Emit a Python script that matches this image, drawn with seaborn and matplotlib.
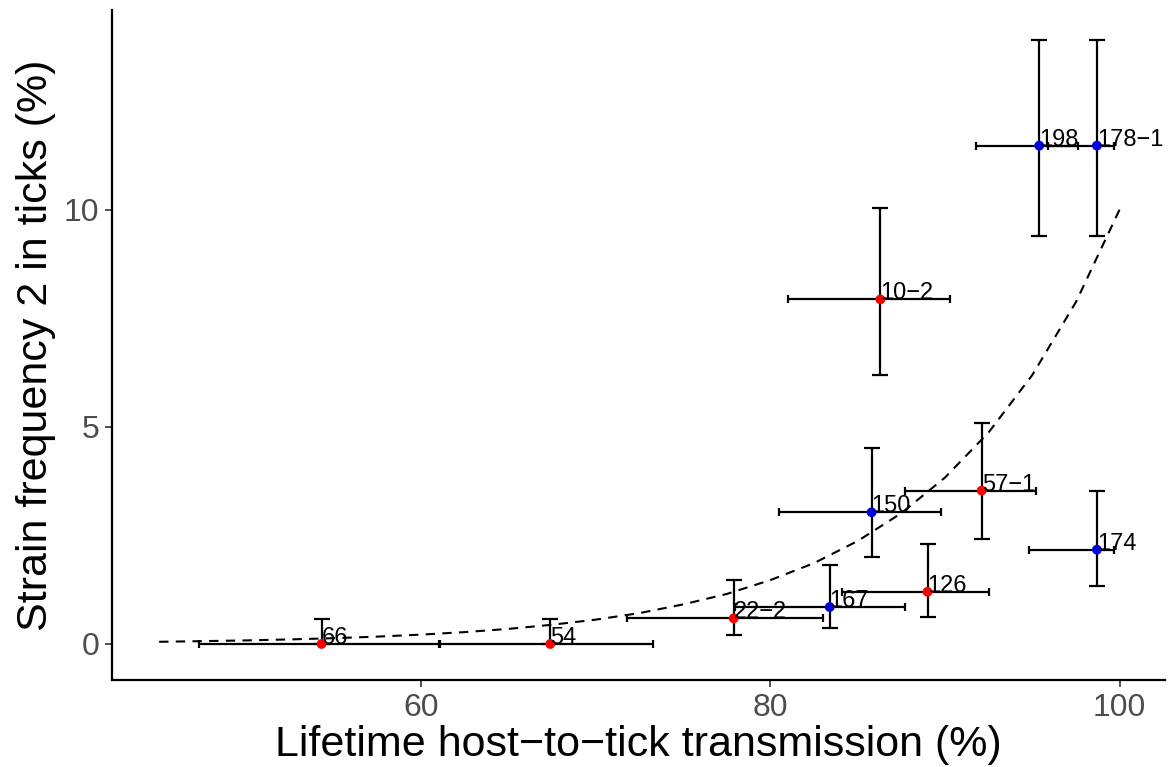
import numpy as np
import pandas as pd
import matplotlib
matplotlib.use("Agg")
import matplotlib.pyplot as plt
import seaborn as sns

# strains: transmission (%) with CI, frequency in ticks (%) with CI
strains    = ["66", "54", "22\u22122", "167", "126", "150", "57\u22121", "174", "10\u22122", "198", "178\u22121"]
grupo      = ["r", "r", "r", "b", "r", "b", "r", "b", "r", "b", "b"]
transm     = [54.3, 67.4, 77.9, 83.4, 89.0, 85.8, 92.1, 98.7, 86.3, 95.4, 98.7]
transm_lo  = [47.3, 61.1, 71.8, 78.0, 84.1, 80.5, 87.7, 94.8, 81.0, 91.8, 95.9]
transm_hi  = [61.0, 73.3, 83.0, 87.7, 92.5, 89.8, 95.2, 99.7, 90.3, 97.6, 99.7]
freq       = [0.0, 0.0, 0.59, 0.85, 1.2, 3.03, 3.53, 2.17, 7.93, 11.47, 11.47]
freq_lo    = [0.0, 0.0, 0.21, 0.36, 0.61, 2.01, 2.41, 1.34, 6.2, 9.4, 9.4]
freq_hi    = [0.57, 0.57, 1.47, 1.82, 2.3, 4.52, 5.08, 3.51, 10.04, 13.9, 13.9]

# fitted curve
curva_x = [45, 47.5, 50, 52.5, 55, 57.5, 60, 62.5, 65, 67.5, 70, 72.5, 75,
           77.5, 80, 82.5, 85, 87.5, 90, 92.5, 95, 97.5, 100]
curva_y = [0.05, 0.065, 0.082, 0.105, 0.133, 0.169, 0.215, 0.273, 0.347, 0.442,
           0.56, 0.71, 0.91, 1.15, 1.47, 1.86, 2.37, 3.01, 3.83, 4.87, 6.19, 7.87, 10.0]

df = pd.DataFrame({"strain": strains, "grupo": grupo, "x": transm, "y": freq,
                   "xlo": transm_lo, "xhi": transm_hi, "ylo": freq_lo, "yhi": freq_hi})

sns.set_theme(style="ticks")
plt.rcParams["font.family"] = ["Liberation Sans", "DejaVu Sans"]

fig = plt.figure(figsize=(11.75, 7.67), dpi=100)
ax = fig.add_axes([0.0953, 0.1134, 0.8962, 0.874])

sns.lineplot(x=curva_x, y=curva_y, ax=ax, color="black", linestyle=(0, (4.5, 3.5)),
             linewidth=1.5, zorder=1)

ax.errorbar(df["x"], df["y"], xerr=[df["x"] - df["xlo"], df["xhi"] - df["x"]],
            fmt="none", ecolor="black", elinewidth=1.6, capsize=3.2, capthick=1.6, zorder=2)
ax.errorbar(df["x"], df["y"], yerr=[df["y"] - df["ylo"], df["yhi"] - df["y"]],
            fmt="none", ecolor="black", elinewidth=1.6, capsize=6, capthick=1.6, zorder=2)

sns.scatterplot(data=df, x="x", y="y", hue="grupo", palette={"r": "#FF0000", "b": "#0000E0"},
                s=50, edgecolor="none", legend=False, ax=ax, zorder=3)

for _, r in df.iterrows():
    ax.text(r["x"], r["y"], r["strain"], ha="left", va="baseline", fontsize=17,
            color="black", zorder=4)

ax.set_xlim(42.3, 102.6)
ax.set_ylim(-0.83, 14.6)
ax.set_xticks([60, 80, 100])
ax.set_yticks([0, 5, 10])
ax.set_xlabel("Lifetime host\u2212to\u2212tick transmission (%)", fontsize=31, color="black", labelpad=2)
ax.set_ylabel("Strain frequency 2 in ticks (%)", fontsize=31, color="black", labelpad=6)
ax.tick_params(axis="both", labelsize=23, labelcolor="#4D4D4D", color="#333333",
               length=5, width=1.2, pad=4)
for s in ["left", "bottom"]:
    ax.spines[s].set_linewidth(1.6)
    ax.spines[s].set_color("black")
sns.despine(ax=ax)

fig.savefig("out.png", dpi=100, facecolor="white")
